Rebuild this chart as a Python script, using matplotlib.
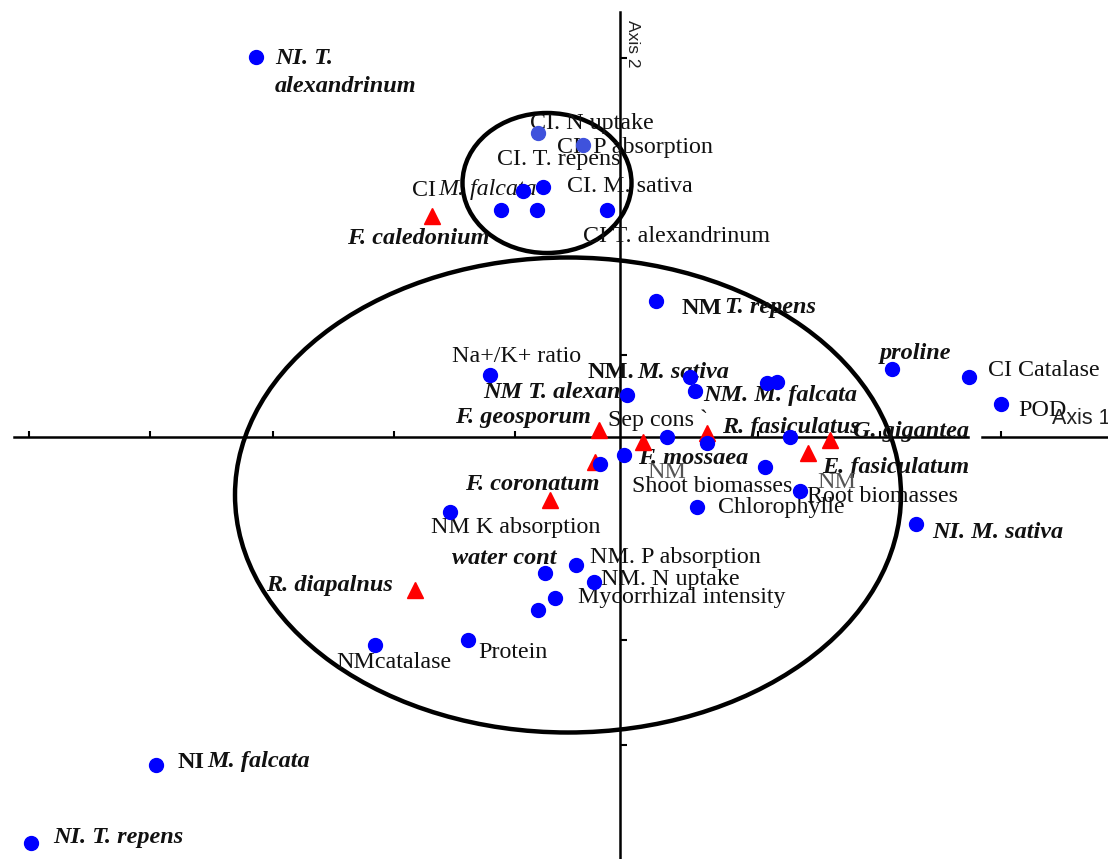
import matplotlib
matplotlib.use("Agg")
import matplotlib.pyplot as plt
from matplotlib.patches import Ellipse

plt.rcParams['font.family'] = ['Liberation Serif', 'DejaVu Serif']

# blue dots: variables and plant/treatment scores
dot_x = [-3.64, -0.97, -0.77, -1.19, -0.83, -0.13, 0.36, -1.30, 0.70, 0.75,
         0.07, 1.47, 1.57, 2.72, 3.49, 3.81, 0.47, 0.87, 1.70, 0.04,
         -0.20, 1.45, 1.80, 0.77, 2.96, -1.70, -0.75, -0.44, -0.26, -0.65,
         -0.82, -1.52, -2.45, -4.64, -5.89]
dot_y = [3.80, 2.46, 2.50, 2.27, 2.27, 2.27, 1.36, 0.62, 0.60, 0.46,
         0.42, 0.54, 0.55, 0.68, 0.60, 0.33, 0.00, -0.06, 0.00, -0.18,
         -0.27, -0.30, -0.54, -0.70, -0.87, -0.75, -1.36, -1.28, -1.45, -1.61,
         -1.73, -2.03, -2.08, -3.28, -4.06]

# the two lighter points (CI N uptake, CI P absorption)
light_x = [-0.82, -0.37]
light_y = [3.04, 2.92]

# red triangles: fungal species
tri_x = [-1.88, -0.21, 0.23, 0.87, 2.10, 1.88, -0.25, -0.70, -2.05]
tri_y = [2.21, 0.07, -0.05, 0.04, -0.03, -0.16, -0.25, -0.63, -1.53]

# labels
bfit_text = ["NI. T.", "alexandrinum", "F. caledonium", "NM T. alexan.",
             "NM. M. falcata", "proline", "F. geosporum", "R. fasiculatus",
             "G. gigantea", "F. mossaea", "E. fasiculatum", "NI. M. sativa",
             "F. coronatum", "water cont", "R. diapalnus", "NI. T. repens"]
bfit_x = [-3.45, -3.45, -2.73, -1.37, 0.83, 2.60, -1.65, 1.02,
          2.33, 0.18, 2.02, 3.12, -1.55, -1.68, -3.54, -5.67]
bfit_y = [3.79, 3.50, 1.99, 0.44, 0.42, 0.84, 0.20, 0.10,
          0.05, -0.21, -0.30, -0.96, -0.48, -1.21, -1.48, -4.01]

plain_text = ["CI. N uptake", "CI. P absorption", "CI. T. repens", "CI. M. sativa",
              "CI T. alexandrinum", "Na+/K+ ratio", "CI Catalase", "POD",
              "Sep cons `", "Shoot biomasses", "Root biomasses", "Chlorophylle",
              "NM K absorption", "NM. P absorption", "NM. N uptake",
              "Mycorrhizal intensity", "Protein", "NMcatalase"]
plain_x = [-0.90, -0.63, -1.23, -0.53, -0.37, -1.68, 3.68, 3.98,
           -0.12, 0.12, 1.87, 0.98, -1.89, -0.30, -0.19, -0.42, -1.42, -2.84]
plain_y = [3.14, 2.90, 2.77, 2.51, 2.00, 0.80, 0.67, 0.27,
           0.17, -0.50, -0.60, -0.70, -0.90, -1.20, -1.43, -1.60, -2.15, -2.25]

gray_text = ["NM", "NM"]
gray_x = [0.27, 1.97]
gray_y = [-0.35, -0.45]

# two-part labels: (prefix, species)
bold_pre = ["NM", "NM.", "NI"]
bold_sp = ["T. repens", "M. sativa", "M. falcata"]
bold_x = [0.62, -0.32, -4.42]
bold_y = [1.29, 0.65, -3.25]

fig = plt.figure(figsize=(11.08, 8.59), dpi=100)
ax = fig.add_axes([0, 0, 1, 1])
ax.set_xlim(-6.20, 4.88)
ax.set_ylim(-4.22, 4.37)
ax.axis('off')

# axes through the origin
ax.plot([-6.06, 3.48], [0, 0], color='black', lw=1.8, zorder=2)
ax.plot([3.62, 4.88], [0, 0], color='black', lw=1.8, zorder=2)
ax.plot([0, 0], [-4.25, 4.25], color='black', lw=1.8, zorder=2)
ax.vlines([-5.91, -4.70, -3.47, -2.26, -1.05, 1.38, 2.60, 3.81], 0, 0.06,
          color='black', lw=1.5, zorder=2)
ax.hlines([3.79, 0.82, -2.03, -3.08], 0, 0.07, color='black', lw=1.5, zorder=2)

ax.add_patch(Ellipse((-0.73, 2.54), 1.69, 1.40, fill=False, lw=3.2,
                     color='black', zorder=2))
ax.add_patch(Ellipse((-0.52, -0.58), 6.66, 4.75, fill=False, lw=3.2,
                     color='black', zorder=2))

ax.plot(tri_x, tri_y, '^', color='#ff0000', ms=12, mec='#ff0000', zorder=4)
ax.plot(dot_x, dot_y, 'o', color='#0000ff', ms=10, zorder=5)
ax.plot(light_x, light_y, 'o', color='#3f52dc', ms=10, zorder=5)

for t, x, y in zip(bfit_text, bfit_x, bfit_y):
    ax.text(x, y, t, fontsize=17.5, fontweight='bold', fontstyle='italic',
            color='#111111', ha='left', va='center', zorder=3)

for t, x, y in zip(plain_text, plain_x, plain_y):
    ax.text(x, y, t, fontsize=17.3, color='#111111', ha='left', va='center', zorder=3)

for t, x, y in zip(gray_text, gray_x, gray_y):
    ax.text(x, y, t, fontsize=17.3, color='#555555', ha='left', va='center', zorder=3)


def two_part(x, y, first, second, size, w1, w2, style2):
    t = ax.text(x, y, first, fontsize=size, fontweight=w1, color='#111111',
                ha='left', va='center', zorder=3)
    ax.annotate(second, xy=(1, 0), xycoords=t, xytext=(2, 0),
                textcoords='offset points', fontsize=size, fontweight=w2,
                fontstyle=style2, color='#111111', ha='left', va='bottom', zorder=3)


for pre, sp, x, y in zip(bold_pre, bold_sp, bold_x, bold_y):
    two_part(x, y, pre, sp, 17.5, 'bold', 'bold', 'italic')

two_part(-2.08, 2.47, "CI", "M. falcata", 17.3, 'normal', 'normal', 'italic')

ax.text(4.32, 0.19, "Axis 1", fontsize=15.5, family='Liberation Sans',
        color='#222222', ha='left', va='center', zorder=3)
ax.text(0.12, 3.93, "Axis 2", fontsize=12.5, family='Liberation Sans',
        color='#222222', rotation=270, ha='center', va='center', zorder=3)

fig.savefig('out.png', dpi=100)
